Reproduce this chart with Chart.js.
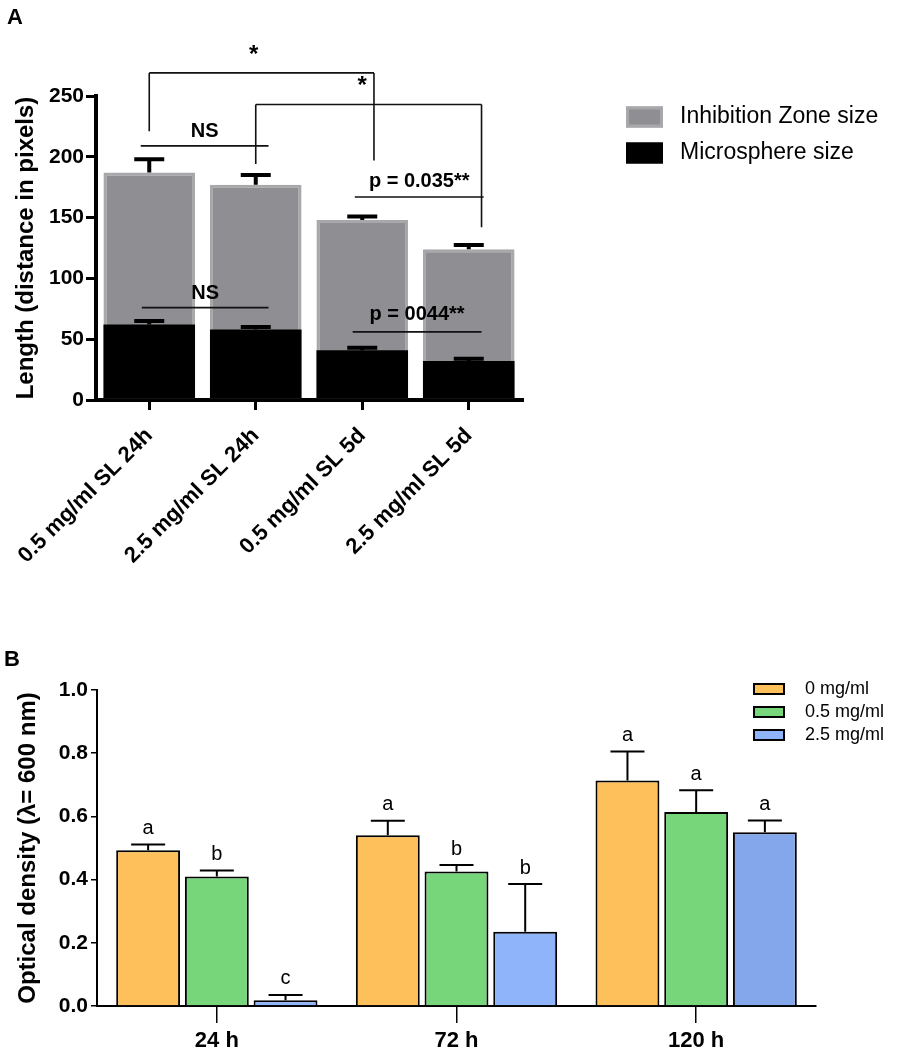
<!DOCTYPE html>
<html>
<head>
<meta charset="utf-8">
<script src="https://cdn.jsdelivr.net/npm/chart.js@4.4.1/dist/chart.umd.min.js"></script>
<style>
  body { margin: 0; background: #fff; width: 905px; height: 1050px; position: relative; overflow: hidden; }
  canvas { position: absolute; left: 0; }
  .tag { position: absolute; font-family: 'Liberation Sans', Arial, sans-serif; font-weight: bold; font-size: 22px; color: #000; }
</style>
</head>
<body>
<canvas id="chartA" width="905" height="615" style="top:0"></canvas>
<canvas id="chartB" width="905" height="430" style="top:620px"></canvas>
<div class="tag" style="left:7px;top:4px">A</div>
<div class="tag" style="left:4px;top:646px">B</div>
<script>
// ---- panel A data (length in pixels) ----
const categoriesA = ["0.5 mg/ml SL 24h", "2.5 mg/ml SL 24h", "0.5 mg/ml SL 5d", "2.5 mg/ml SL 5d"];
const inhibitionZone = [187, 177, 148, 124];
const inhibitionErr = [11, 8, 3, 3.5];
const microsphere = [62, 58, 41, 32];
const microsphereErr = [3, 2, 2, 2];
const ticksA = [0, 50, 100, 150, 200, 250];

// ---- panel B data (optical density) ----
const timesB = ["24 h", "72 h", "120 h"];
const od0 = [0.493, 0.540, 0.714];
const od0Err = [0.018, 0.046, 0.091];
const od05 = [0.410, 0.426, 0.614];
const od05Err = [0.019, 0.020, 0.069];
const od25 = [0.018, 0.235, 0.550];
const od25Err = [0.017, 0.151, 0.037];
const letters0 = ["a", "a", "a"];
const letters05 = ["b", "b", "a"];
const letters25 = ["c", "b", "a"];
const ticksB = [0, 0.2, 0.4, 0.6, 0.8, 1.0];

// significance marks in panel A (x = category index, y = axis value)
const marksA = [
  { x0: 0, x1: 2.11, y: 269, leg0: 221, leg1: 197, text: "*", tx: 0.98, ty: 283, size: 24 },
  { x0: 1, x1: 3.12, y: 243, leg0: 194, leg1: 142, text: "*", tx: 2.0, ty: 258, size: 24 },
  { x0: -0.08, x1: 1.12, y: 209, text: "NS", ty: 221, size: 20 },
  { x0: 1.93, x1: 3.14, y: 167, text: "p = 0.035**", ty: 180, size: 20 },
  { x0: -0.07, x1: 1.12, y: 76, text: "NS", ty: 88, size: 20 },
  { x0: 1.91, x1: 3.12, y: 56, text: "p = 0044**", ty: 70, size: 20 }
];

Chart.defaults.font.family = "'Liberation Sans', Arial, sans-serif";
Chart.defaults.color = "#000";

// error bars (+ letters) on top of the bars
const errorBars = {
  id: "errorBars",
  afterDatasetsDraw(chart, args, opts) {
    const ctx = chart.ctx;
    const y = chart.scales.y;
    chart.data.datasets.forEach((ds, i) => {
      if (!ds.errors) return;
      chart.getDatasetMeta(i).data.forEach((bar, j) => {
        const top = y.getPixelForValue(ds.data[j] + ds.errors[j]);
        ctx.save();
        ctx.strokeStyle = "#000";
        ctx.lineWidth = opts.lineWidth;
        ctx.beginPath();
        ctx.moveTo(bar.x, bar.y);
        ctx.lineTo(bar.x, top);
        ctx.moveTo(bar.x - opts.cap / 2, top);
        ctx.lineTo(bar.x + opts.cap / 2, top);
        ctx.stroke();
        if (ds.letters) {
          ctx.fillStyle = "#000";
          ctx.font = opts.letterFont;
          ctx.textAlign = "center";
          ctx.textBaseline = "bottom";
          ctx.fillText(ds.letters[j], bar.x, top - 6);
        }
        ctx.restore();
      });
    });
  }
};

// legend with boxes, drawn at a fixed spot
const boxLegend = {
  id: "boxLegend",
  afterDraw(chart, args, o) {
    const ctx = chart.ctx;
    o.order.forEach((di, k) => {
      const ds = chart.data.datasets[di];
      const cy = o.y + k * o.gap;
      const fill = Array.isArray(ds.backgroundColor) ? ds.backgroundColor[0] : ds.backgroundColor;
      ctx.save();
      ctx.fillStyle = fill;
      ctx.fillRect(o.x, cy - o.h / 2, o.w, o.h);
      if (o.stroke) {
        ctx.strokeStyle = o.stroke === "own" ? ds.borderColor : o.stroke;
        ctx.lineWidth = o.lw;
        ctx.strokeRect(o.x + o.lw / 2, cy - o.h / 2 + o.lw / 2, o.w - o.lw, o.h - o.lw);
      }
      ctx.fillStyle = "#000";
      ctx.font = o.font;
      ctx.textBaseline = "middle";
      ctx.fillText(ds.label, o.x + o.w + o.textGap, cy);
      ctx.restore();
    });
  }
};

// brackets and p-values for panel A
const sigMarks = {
  id: "sigMarks",
  afterDraw(chart) {
    const ctx = chart.ctx;
    const xs = chart.scales.x, ys = chart.scales.y;
    ctx.save();
    ctx.strokeStyle = "#111";
    ctx.lineWidth = 1.6;
    ctx.fillStyle = "#000";
    marksA.forEach(m => {
      const xa = xs.getPixelForValue(m.x0), xb = xs.getPixelForValue(m.x1), yy = ys.getPixelForValue(m.y);
      ctx.beginPath();
      ctx.moveTo(xa, yy);
      ctx.lineTo(xb, yy);
      if (m.leg0 !== undefined) {
        ctx.moveTo(xa, yy);
        ctx.lineTo(xa, ys.getPixelForValue(m.leg0));
        ctx.moveTo(xb, yy);
        ctx.lineTo(xb, ys.getPixelForValue(m.leg1));
      }
      ctx.stroke();
      ctx.font = "bold " + m.size + "px 'Liberation Sans', Arial, sans-serif";
      ctx.textAlign = "center";
      ctx.textBaseline = "middle";
      const tx = m.tx !== undefined ? xs.getPixelForValue(m.tx) : (xa + xb) / 2;
      ctx.fillText(m.text, tx, ys.getPixelForValue(m.ty));
    });
    ctx.restore();
  }
};

new Chart(document.getElementById("chartA"), {
  type: "bar",
  data: {
    labels: categoriesA,
    datasets: [
      {
        label: "Microsphere size",
        data: microsphere,
        errors: microsphereErr,
        backgroundColor: "#000",
        borderWidth: 0,
        grouped: false,
        barPercentage: 1,
        categoryPercentage: 0.86
      },
      {
        label: "Inhibition Zone size",
        data: inhibitionZone,
        errors: inhibitionErr,
        backgroundColor: "#8f8e93",
        borderColor: "#a8a8ab",
        borderWidth: 3,
        grouped: false,
        barPercentage: 1,
        categoryPercentage: 0.86
      }
    ]
  },
  options: {
    responsive: false,
    animation: false,
    layout: { padding: { top: 96, right: 383, left: 0, bottom: 0 } },
    plugins: {
      legend: { display: false },
      tooltip: { enabled: false },
      errorBars: { lineWidth: 4, cap: 30 },
      boxLegend: { order: [1, 0], x: 626, y: 117, gap: 36, w: 37, h: 21, stroke: "own", lw: 3,
                   font: "23px 'Liberation Sans', Arial, sans-serif", textGap: 17 }
    },
    scales: {
      x: {
        grid: { display: true, drawOnChartArea: false, offset: false, tickLength: 10, lineWidth: 3, color: "#000" },
        border: { display: true, width: 4, color: "#000" },
        ticks: { autoSkip: false, minRotation: 45, maxRotation: 45, padding: 13,
                 font: { size: 22, weight: "bold" }, color: "#000" },
        afterFit: s => { s.height = 215; s.paddingLeft = 0; s.paddingRight = 0; }
      },
      y: {
        min: 0,
        max: 250,
        afterBuildTicks: s => { s.ticks = ticksA.map(v => ({ value: v })); },
        grid: { display: true, drawOnChartArea: false, tickLength: 10, lineWidth: 3, color: "#000" },
        border: { display: true, width: 4, color: "#000" },
        ticks: { padding: 2, font: { size: 21, weight: "bold" }, color: "#000" },
        title: { display: true, text: "Length (distance in pixels)", font: { size: 24, weight: "bold" },
                 color: "#000", padding: { top: 12, bottom: 0 } },
        afterFit: s => { s.width = 96; }
      }
    }
  },
  plugins: [errorBars, boxLegend, sigMarks]
});

new Chart(document.getElementById("chartB"), {
  type: "bar",
  data: {
    labels: timesB,
    datasets: [
      { label: "0 mg/ml", data: od0, errors: od0Err, letters: letters0,
        backgroundColor: "#fec05b", borderColor: "#000", borderWidth: 2 },
      { label: "0.5 mg/ml", data: od05, errors: od05Err, letters: letters05,
        backgroundColor: "#78d67a", borderColor: "#000", borderWidth: 2 },
      { label: "2.5 mg/ml", data: od25, errors: od25Err, letters: letters25,
        backgroundColor: ["#90b4fa", "#90b4fa", "#84a7ec"], borderColor: "#000", borderWidth: 2 }
    ]
  },
  options: {
    responsive: false,
    animation: false,
    categoryPercentage: 0.86,
    barPercentage: 0.93,
    layout: { padding: { top: 70, right: 89, left: 0, bottom: 0 } },
    plugins: {
      legend: { display: false },
      tooltip: { enabled: false },
      errorBars: { lineWidth: 2, cap: 34, letterFont: "20px 'Liberation Sans', Arial, sans-serif" },
      boxLegend: { order: [0, 1, 2], x: 753, y: 69, gap: 23, w: 32, h: 12, stroke: "#000", lw: 2,
                   font: "18px 'Liberation Sans', Arial, sans-serif", textGap: 20 }
    },
    scales: {
      x: {
        grid: { display: true, drawOnChartArea: false, offset: false, tickLength: 17, lineWidth: 1.5, color: "#000" },
        border: { display: true, width: 2, color: "#000" },
        ticks: { padding: 5, font: { size: 22, weight: "bold" }, color: "#000" },
        afterFit: s => { s.height = 44; }
      },
      y: {
        min: 0,
        max: 1,
        afterBuildTicks: s => { s.ticks = ticksB.map(v => ({ value: v })); },
        grid: { display: true, drawOnChartArea: false, tickLength: 6, lineWidth: 1.5, color: "#000" },
        border: { display: true, width: 2, color: "#000" },
        ticks: { padding: 3, font: { size: 21, weight: "bold" }, color: "#000",
                 callback: v => v.toFixed(1) },
        title: { display: true, text: "Optical density (λ= 600 nm)", font: { size: 24, weight: "bold" },
                 color: "#000", padding: { top: 14, bottom: 0 } },
        afterFit: s => { s.width = 97; }
      }
    }
  },
  plugins: [errorBars, boxLegend]
});
</script>
</body>
</html>
